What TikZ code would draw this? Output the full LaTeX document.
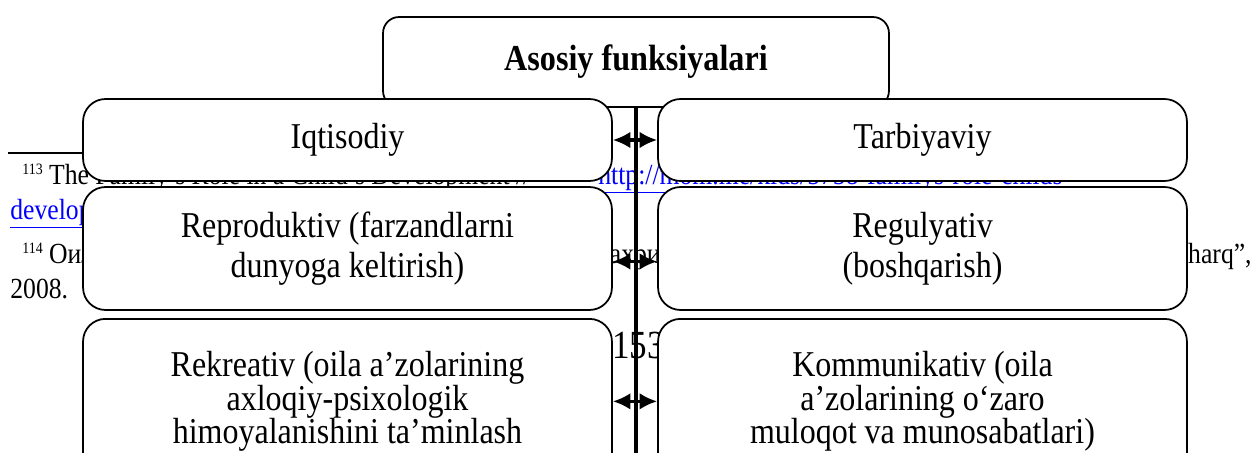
\documentclass[tikz,border=0pt]{standalone}
\usepackage{fontspec}
\setmainfont[FakeStretch=0.88]{Liberation Serif}
\usetikzlibrary{arrows.meta}

\tikzset{
  funcbox/.style={draw,fill=white,line width=1pt,rounded corners=0.45cm,align=center,
    minimum width=10.58cm,font=\fontsize{20.7}{19.2}\selectfont},
  pagetext/.style={anchor=base west,inner sep=0pt,font=\fontsize{16.6}{19}\selectfont},
  linktext/.style={pagetext,text=blue},
  twoway/.style={{Latex[length=10pt,width=9.5pt]}-{Latex[length=10pt,width=9.5pt]},line width=1.8pt}
}
\newcommand{\fnmark}[1]{\raisebox{5.5pt}{\fontsize{9}{10}\selectfont #1}}

\begin{document}
\begin{tikzpicture}[x=0.02cm,y=-0.02cm]
                \useasboundingbox (0,0) rectangle (1259,453);
                \clip (0,0) rectangle (1259,453);
                \draw[line width=0.6pt](8,153)--(83,153);
                \node[pagetext] (fn1) at (22,184){\fnmark{113} The Family's Role in a Child's Development //};
                \node[linktext] (fn1link) at (598,184){\underline{http://mom.me/kids/5758-familys-role-childs-}};
                \node[linktext] (fn1end) at (10,219){\underline{development}};
                \node[pagetext] (fn2) at (22,263){\fnmark{114} Оила};
                \node[pagetext] (fn2mid) at (598,263){тахрири};
                \node[pagetext,anchor=base east] (fn2end) at (1252,263){“Sharq”,};
                \node[pagetext] (fn2year) at (10,298){2008.};
                \node[pagetext,font=\fontsize{22.7}{24}\selectfont] (pagenum) at (612,358){153};
                \coordinate (bot) at (636,470);
                \node[funcbox,minimum width=10.12cm,minimum height=1.8cm,rounded corners=0.32cm,
                  font=\fontsize{20.8}{22}\selectfont\bfseries] (title) at (636,62){Asosiy funksiyalari};
                \draw[line width=1.9pt](title.south)--(bot);
                \node[funcbox,minimum height=1.64cm] (iqt) at (347.5,140){\raisebox{-3pt}{Iqtisodiy}};
                \node[funcbox,minimum height=1.64cm] (tarb) at (922.5,140){\raisebox{-3pt}{Tarbiyaviy}};
                \node[funcbox,minimum height=2.46cm,font=\fontsize{20.7}{22.5}\selectfont] (repr) at (347.5,248.5){Reproduktiv (farzandlarni\\dunyoga keltirish)};
                \node[funcbox,minimum height=2.46cm,font=\fontsize{20.7}{22.5}\selectfont] (regul) at (922.5,248.5){Regulyativ\\(boshqarish)};
                \node[funcbox,minimum height=3.3cm,anchor=north] (rekr) at (347.5,318){Rekreativ (oila a’zolarining\\axloqiy-psixologik\\himoyalanishini ta’minlash};
                \node[funcbox,minimum height=3.3cm,anchor=north] (komm) at (922.5,318){Kommunikativ (oila\\a’zolarining o‘zaro\\muloqot va munosabatlari)};
                \draw[twoway](iqt.east)--(tarb.west);
                \draw[twoway]([yshift=-0.26cm]repr.east)--([yshift=-0.26cm]regul.west);
                \draw[twoway](rekr.east)--(komm.west);
\end{tikzpicture}
\end{document}
